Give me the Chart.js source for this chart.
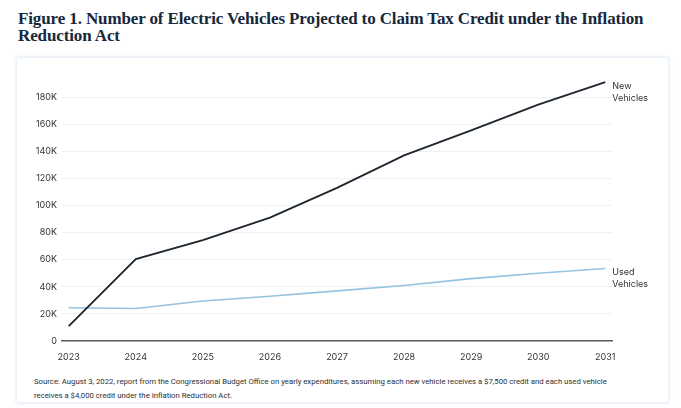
<!DOCTYPE html>
<html>
<head>
<meta charset="utf-8">
<script src="https://cdn.jsdelivr.net/npm/chart.js@4.4.1/dist/chart.umd.min.js"></script>
<style>
  html, body { margin: 0; padding: 0; background: #fff; }
  body { width: 681px; height: 408px; position: relative; overflow: hidden; }
  #title {
    position: absolute; left: 18px; top: 10px;
    font-family: "Liberation Serif", "DejaVu Serif", serif;
    font-weight: bold; font-size: 17px; line-height: 17px;
    color: #17283a; letter-spacing: -0.12px; white-space: nowrap;
  }
  #card {
    position: absolute; left: 17px; top: 58px; width: 651px; height: 344px;
    background: #fff; box-shadow: 0 0 3px 1px rgba(205, 222, 240, 0.7);
  }
  #wrap { position: absolute; left: 0; top: 0; width: 651px; height: 303px; }
  #source {
    position: absolute; left: 17px; top: 317px;
    font-family: Roboto, "Liberation Sans", sans-serif;
    font-size: 7.75px; line-height: 14px; color: #2b2f33; white-space: nowrap;
  }
</style>
</head>
<body>
<div id="title">Figure 1. Number of Electric Vehicles Projected to Claim Tax Credit under the Inflation<br>Reduction Act</div>
<div id="card">
  <div id="wrap"><canvas id="chart"></canvas></div>
  <div id="source">Source: August 3, 2022, report from the Congressional Budget Office on yearly expenditures, assuming each new vehicle receives a $7,500 credit and each used vehicle<br>receives a $4,000 credit under the Inflation Reduction Act.</div>
</div>
<script>
const years = [2023, 2024, 2025, 2026, 2027, 2028, 2029, 2030, 2031];
const newVehicles = [11000, 60500, 74500, 91000, 113000, 137000, 155500, 174500, 191000];
const usedVehicles = [24500, 24000, 29500, 33000, 37000, 41000, 46000, 50000, 53500];
const yTicks = [0, 20000, 40000, 60000, 80000, 100000, 120000, 140000, 160000, 180000];
const seriesLabels = [['New', 'Vehicles'], ['Used', 'Vehicles']];

const tickFont = { family: 'Inter, Roboto, sans-serif', size: 9 };

const endLabels = {
  id: 'endLabels',
  afterDatasetsDraw(chart) {
    const ctx = chart.ctx;
    ctx.save();
    ctx.font = '9px Inter, Roboto, sans-serif';
    ctx.fillStyle = '#333';
    ctx.textAlign = 'left';
    ctx.textBaseline = 'middle';
    chart.data.datasets.forEach((ds, i) => {
      const pts = chart.getDatasetMeta(i).data;
      const last = pts[pts.length - 1];
      seriesLabels[i].forEach((line, j) => {
        ctx.fillText(line, last.x + 7, last.y + 4 + j * 12);
      });
    });
    ctx.restore();
  },
};

const toPoints = (vals) => years.map((y, i) => ({ x: y, y: vals[i] }));

new Chart(document.getElementById('chart'), {
  type: 'line',
  data: {
    datasets: [
      {
        label: 'New Vehicles',
        data: toPoints(newVehicles),
        borderColor: '#1d252e',
        borderWidth: 1.8,
        pointRadius: 0,
        tension: 0,
      },
      {
        label: 'Used Vehicles',
        data: toPoints(usedVehicles),
        borderColor: '#94c2e3',
        borderWidth: 1.6,
        pointRadius: 0,
        tension: 0,
      },
    ],
  },
  options: {
    responsive: true,
    maintainAspectRatio: false,
    animation: false,
    layout: { padding: { left: 0, right: 56, top: 12, bottom: 0 } },
    plugins: { legend: { display: false }, tooltip: { enabled: false } },
    scales: {
      x: {
        type: 'linear',
        min: 2022.9,
        max: 2031.1,
        afterBuildTicks: (s) => { s.ticks = years.map((v) => ({ value: v })); },
        afterFit: (s) => { s.height = 20; },
        grid: { display: false },
        border: { display: true, color: '#5a5f66', width: 1.5 },
        ticks: { color: '#333', font: tickFont, padding: 3, maxRotation: 0, callback: (v) => String(v) },
      },
      y: {
        min: 0,
        max: 200000,
        afterBuildTicks: (s) => { s.ticks = yTicks.map((v) => ({ value: v })); },
        afterFit: (s) => { s.width = 45; },
        grid: { color: '#eef1f5', lineWidth: 1, drawTicks: false },
        border: { display: false },
        ticks: {
          color: '#333', font: tickFont, padding: 5,
          callback: (v) => (v === 0 ? '0' : v / 1000 + 'K'),
        },
      },
    },
  },
  plugins: [endLabels],
});
</script>
</body>
</html>
